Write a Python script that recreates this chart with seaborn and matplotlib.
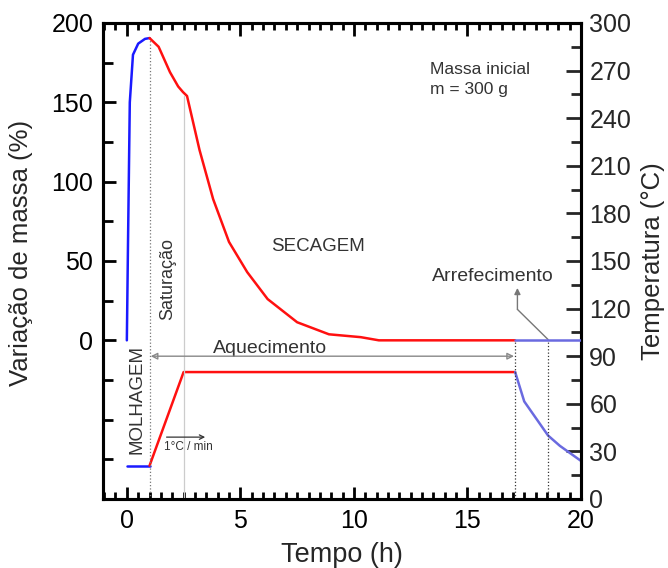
import matplotlib
matplotlib.use("Agg")
import matplotlib.pyplot as plt
import seaborn as sns
import numpy as np
from matplotlib.ticker import MultipleLocator, FixedLocator

# ---------------- data ----------------
# mass variation (%) vs time (h)
wet_t = [0.0, 0.05, 0.13, 0.27, 0.5, 0.8, 1.0]
wet_m = [0.0, 60.0, 150.0, 180.0, 187.0, 190.0, 190.5]
dry_t = [1.0, 1.4, 1.9, 2.26, 2.47, 2.65, 2.78, 3.2, 3.8, 4.5, 5.3, 6.2, 7.5, 8.9, 10.3, 11.1, 17.1]
dry_m = [190.5, 185.0, 169.0, 160.0, 156.5, 154.0, 146.0, 120.0, 89.0, 62.0, 43.0, 26.0, 11.4, 3.8, 2.0, 0.0, 0.0]
cool_mass_t = [17.1, 20.0]
cool_mass_m = [0.0, 0.0]

# temperature (°C) vs time (h)
room_t = [0.0, 1.0]
room_T = [21.0, 21.0]
heat_t = [1.0, 2.5, 17.1]
heat_T = [21.0, 80.0, 80.0]
cool_t = [17.1, 17.5, 18.55, 19.07, 20.0]
cool_T = [80.0, 61.5, 40.0, 33.5, 24.0]

# stage boundaries (h) and mass at their top (%)
stage_t = [1.0, 2.5, 17.1, 18.55]
stage_top = [190.5, 154.0, 0.0, 0.0]

mass_ticks = [0, 50, 100, 150, 200]
temp_ticks = [0, 30, 60, 90, 120, 150, 180, 210, 240, 270, 300]
time_ticks = [0, 5, 10, 15, 20]

# ---------------- style ----------------
sns.set_style("ticks")
plt.rcParams["font.family"] = ["Liberation Sans", "DejaVu Sans"]
plt.rcParams["axes.linewidth"] = 2.2

fig = plt.figure(figsize=(6.68, 5.68), dpi=100)
ax = fig.add_axes([103 / 668, 1 - 499 / 568, 478 / 668, 476 / 568])
ax2 = ax.twinx()

RED = "#ff1010"
BLUE = "#1a1aff"
LBLUE = "#6a6ae0"

# guide lines
gcol = ["#777777", "#cccccc", "#333333", "#333333"]
gls = [":", "-", ":", ":"]
for t, top, c, ls in zip(stage_t, stage_top, gcol, gls):
    ax.plot([t, t], [-100, top], color=c, ls=ls, lw=0.9, zorder=1)

# mass curves
sns.lineplot(x=wet_t, y=wet_m, ax=ax, color=BLUE, lw=1.8, sort=False, estimator=None, zorder=3)
sns.lineplot(x=dry_t, y=dry_m, ax=ax, color=RED, lw=1.8, sort=False, estimator=None, zorder=3)
sns.lineplot(x=cool_mass_t, y=cool_mass_m, ax=ax, color=LBLUE, lw=1.8, sort=False, estimator=None, zorder=3)

# temperature curves
sns.lineplot(x=room_t, y=room_T, ax=ax2, color=BLUE, lw=1.8, sort=False, estimator=None)
sns.lineplot(x=heat_t, y=heat_T, ax=ax2, color=RED, lw=1.8, sort=False, estimator=None)
sns.lineplot(x=cool_t, y=cool_T, ax=ax2, color=LBLUE, lw=1.8, sort=False, estimator=None)

# axes limits / ticks
ax.set_xlim(-1.05, 20)
ax.set_ylim(-100, 200)
ax2.set_ylim(0, 300)

ax.xaxis.set_major_locator(FixedLocator(time_ticks))
ax.xaxis.set_minor_locator(MultipleLocator(0.5))
ax.yaxis.set_major_locator(FixedLocator(mass_ticks))
ax.yaxis.set_minor_locator(FixedLocator([-75, -50, -25, 25, 75, 125, 175]))
ax2.yaxis.set_major_locator(FixedLocator(temp_ticks))
ax2.yaxis.set_minor_locator(MultipleLocator(15))

ax.tick_params(axis="both", which="both", direction="in", width=2.0, colors="black",
               labelsize=18, pad=7)
ax.tick_params(axis="x", which="both", top=True, bottom=True)
ax.tick_params(axis="y", which="both", left=True, right=False)
ax.tick_params(which="major", length=9)
ax.tick_params(which="minor", length=5)
ax.tick_params(axis="y", which="minor", length=7)
ax2.tick_params(axis="y", which="both", direction="in", width=2.0, labelsize=18, pad=6)
ax2.tick_params(which="major", length=11)
ax2.tick_params(which="minor", length=7)

for a in (ax, ax2):
    for s in a.spines.values():
        s.set_linewidth(2.2)
        s.set_color("black")
        s.set_visible(True)

ax.set_xlabel("Tempo (h)", fontsize=19.5, labelpad=7)
ax.set_ylabel("Variação de massa (%)", fontsize=18.5)
ax2.set_ylabel("Temperatura (°C)", fontsize=18.5)
ax.yaxis.set_label_coords(-0.146, 0.517)
ax2.yaxis.set_label_coords(1.126, 0.5)

ax.set_zorder(ax2.get_zorder() + 1)
ax.patch.set_visible(False)

# annotations
tc = "#333333"
ax.text(8.4, 59, "SECAGEM", fontsize=13.5, color=tc, ha="center", va="center")
ax.text(1.8, 38.5, "Saturação", fontsize=13, color=tc, ha="center", va="center", rotation=90)
ax.text(0.46, -37, "MOLHAGEM", fontsize=13.5, color=tc, ha="center", va="center", rotation=90)
ax.text(6.3, -5, "Aquecimento", fontsize=14, color=tc, ha="center", va="center")
ax.annotate("", xy=(1.05, -10), xytext=(17.05, -10),
            arrowprops=dict(arrowstyle="<|-|>", color="#888888", lw=1.0,
                            mutation_scale=10, shrinkA=0, shrinkB=0, fill=False))
ax.text(16.1, 40, "Arrefecimento", fontsize=14, color=tc, ha="center", va="center")
ax.plot([18.55, 17.2], [0.5, 19.5], color="#777777", lw=1.0)
ax.annotate("", xy=(17.2, 33), xytext=(17.2, 19.5),
            arrowprops=dict(arrowstyle="-|>", color="#777777", lw=1.0,
                            mutation_scale=9, shrinkA=0, shrinkB=0))
ax.text(13.35, 171, "Massa inicial", fontsize=12.5, color=tc, ha="left", va="center")
ax.text(13.35, 158, "m = 300 g", fontsize=12.5, color=tc, ha="left", va="center")
ax.text(2.7, -67.5, "1°C / min", fontsize=8.5, color=tc, ha="center", va="center")
ax.annotate("", xy=(3.45, -61), xytext=(1.75, -61),
            arrowprops=dict(arrowstyle="->", color="#333333", lw=0.9,
                            mutation_scale=8, shrinkA=0, shrinkB=0))

fig.savefig("out.png", dpi=100)
